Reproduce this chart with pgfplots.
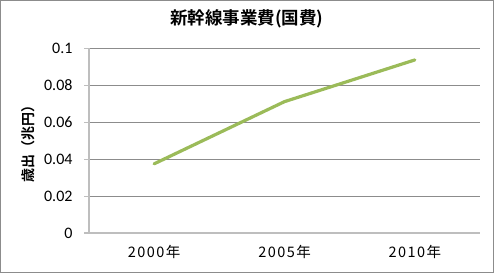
\documentclass[border=0pt]{standalone}
\usepackage{fontspec}
\setmainfont{Carlito}
\newfontfamily\jp[LetterSpace=10]{Noto Sans CJK JP}
\newfontfamily\jpb{Noto Sans CJK JP Bold}
\usepackage{pgfplots}
\pgfplotsset{compat=1.18}
\definecolor{linegreen}{HTML}{9BBB59}
\definecolor{gridgray}{HTML}{8C8C8C}
\definecolor{axisgray}{HTML}{BEBEBE}
\begin{document}
\begin{tikzpicture}[x=1bp,y=1bp]
\useasboundingbox (0,0) rectangle (494,273);
\fill[white] (0,0) rectangle (494,273);
\draw[gridgray,line width=1bp] (0.5,0.5) rectangle (493.5,272.5);
\begin{axis}[
  at={(89bp,40bp)}, anchor=south west,
  scale only axis, width=391bp, height=184.5bp,
  xmin=0, xmax=3, ymin=0, ymax=0.1,
  axis line style={axisgray, line width=1.2bp},
  axis x line*=bottom, axis y line*=left,
  xtick={0.5,1.5,2.5},
  xticklabels={{\jp 2000年},{\jp 2005年},{\jp 2010年}},
  major x tick style={draw=none},
  extra x ticks={0,1,2,3},
  extra x tick labels={},
  extra x tick style={tick style={axisgray, line width=1.2bp}, major tick length=5bp, xtick pos=bottom, tick align=outside, grid=none},
  x tick label style={font=\fontsize{14.5bp}{14.5bp}\selectfont, yshift=-4bp},
  ytick={0,0.02,0.04,0.06,0.08,0.1},
  yticklabels={0,0.02,0.04,0.06,0.08,0.1},
  y tick label style={font=\fontsize{16bp}{16bp}\selectfont, xshift=-8bp},
  ymajorgrids, grid style={gridgray, line width=1bp},
  ytick style={axisgray, line width=1.2bp},
  tick align=outside, major tick length=5bp,
  scaled y ticks=false,
  clip=false,
  title={\jpb 新幹線事業費(国費)},
  title style={font=\fontsize{17.5bp}{17.5bp}\selectfont, at={(axis description cs:0.404,1.13)}, anchor=center},
  ylabel={\jpb 歳出（兆円）},
  ylabel style={font=\fontsize{14bp}{14bp}\selectfont, at={(axis description cs:-0.156,0.5)}, anchor=center},
]
\addplot[linegreen, line width=3.2bp, line cap=round, line join=round] coordinates {(0.5,0.0375) (1.5,0.0712) (2.5,0.0938)};
\end{axis}
\end{tikzpicture}
\end{document}
